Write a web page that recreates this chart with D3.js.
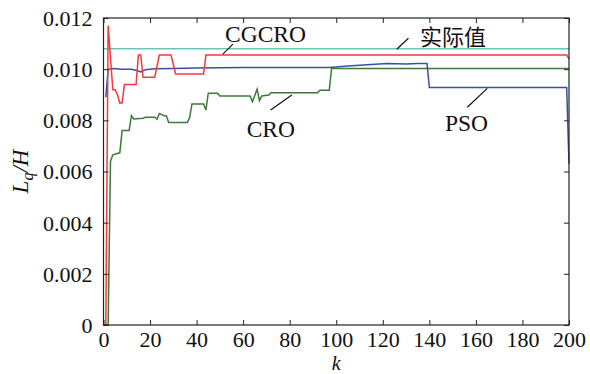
<!DOCTYPE html>
<html>
<head>
<meta charset="utf-8">
<script src="https://cdn.jsdelivr.net/npm/d3@7"></script>
</head>
<body style="margin:0">
<script>
// iteration k and L_q/H values
var actualK = [0, 200];
var actualV = [0.0108, 0.0108];

var cgcroK = [0, 1, 2, 4, 5, 6, 7, 8, 9, 14, 15, 16, 17, 22, 24, 29, 31, 43, 44, 199, 200];
var cgcroV = [0, 0, 0.0117, 0.0092, 0.0092, 0.0090, 0.00868, 0.00868, 0.0094, 0.0094, 0.01055, 0.01055,
              0.00968, 0.00968, 0.01055, 0.01055, 0.00981, 0.00981, 0.01055, 0.01055, 0.0104];

var psoK = [1, 2, 4, 8, 12, 15, 16, 18, 22, 30, 40, 60, 97, 105, 115, 122, 130, 135, 139, 140, 199, 200];
var psoV = [0.0089, 0.0100, 0.01003, 0.01000, 0.01000, 0.00993, 0.00989, 0.00998, 0.01002, 0.01003,
            0.01005, 0.01007, 0.01007, 0.01012, 0.01018, 0.01022, 0.01020, 0.01022, 0.01022, 0.00928,
            0.00928, 0.0063];

var croK = [1, 2, 3, 4, 7, 8, 11, 12, 13, 17, 18, 22, 23, 24, 26, 27, 28, 36, 37, 38, 43, 44, 45, 49,
            50, 63, 64, 66, 67, 68, 71, 72, 92, 93, 97, 98, 200];
var croV = [0, 0, 0.0064, 0.00665, 0.00673, 0.0076, 0.0076, 0.00818, 0.00805, 0.00808, 0.00812, 0.00812,
            0.00804, 0.00827, 0.00818, 0.00818, 0.00792, 0.00792, 0.0081, 0.00864, 0.00864, 0.0084,
            0.00906, 0.00906, 0.00895, 0.00895, 0.00873, 0.00922, 0.00877, 0.00895, 0.00899, 0.00908,
            0.00908, 0.00918, 0.00918, 0.01003, 0.01003];

var xTicks = [0, 20, 40, 60, 80, 100, 120, 140, 160, 180, 200];
var yTicks = [0, 0.002, 0.004, 0.006, 0.008, 0.010, 0.012];

var W = 590, H = 374;
var margin = {top: 18, right: 21, bottom: 49, left: 103.5};
var serif = "Liberation Serif";

var svg = d3.select("body").append("svg")
            .attr("width", W)
            .attr("height", H)
            .attr("font-family", serif);

var x = d3.scaleLinear().domain([0, 200]).range([margin.left, W - margin.right]);
var y = d3.scaleLinear().domain([0, 0.012]).range([H - margin.bottom, margin.top]);

function zip(ks, vs) {
  return ks.map(function (k, i) { return [k, vs[i]]; });
}

var line = d3.line()
  .x(function (d) { return x(d[0]); })
  .y(function (d) { return y(d[1]); });

var series = [
  {name: "actual", pts: zip(actualK, actualV), color: "#6cc6b8"},
  {name: "CRO", pts: zip(croK, croV), color: "#3d7a37"},
  {name: "PSO", pts: zip(psoK, psoV), color: "#3c4f9c"},
  {name: "CGCRO", pts: zip(cgcroK, cgcroV), color: "#ef3b3b"}
];

svg.selectAll("path.series")
   .data(series)
   .enter().append("path")
   .attr("class", "series")
   .attr("fill", "none")
   .attr("stroke", function (d) { return d.color; })
   .attr("stroke-width", 1.5)
   .attr("d", function (d) { return line(d.pts); });

// axes, ticks pointing inward on all four sides
var fmtY = function (d) { return d === 0 ? "0" : d3.format(".3f")(d); };

var gB = svg.append("g").attr("transform", "translate(0," + y(0) + ")")
  .call(d3.axisBottom(x).tickValues(xTicks).tickSizeInner(-5).tickSizeOuter(0).tickPadding(6));
var gL = svg.append("g").attr("transform", "translate(" + x(0) + ",0)")
  .call(d3.axisLeft(y).tickValues(yTicks).tickFormat(fmtY).tickSizeInner(-5).tickSizeOuter(0).tickPadding(11));
var gT = svg.append("g").attr("transform", "translate(0," + y(0.012) + ")")
  .call(d3.axisTop(x).tickValues(xTicks).tickSizeInner(-5).tickSizeOuter(0).tickFormat(""));
var gR = svg.append("g").attr("transform", "translate(" + x(200) + ",0)")
  .call(d3.axisRight(y).tickValues(yTicks).tickSizeInner(-5).tickSizeOuter(0).tickFormat(""));

[gB, gL, gT, gR].forEach(function (g) {
  g.attr("font-family", serif).attr("font-size", 22);
  g.select(".domain").remove();
  g.selectAll("line").attr("stroke", "#222").attr("stroke-width", 1);
  g.selectAll("text")
   .attr("fill", "#111")
   .attr("font-family", serif)
   .attr("font-size", 22);
});
gB.selectAll("text").attr("dy", "0.71em");
gL.selectAll("text").attr("dy", "0.34em");

svg.append("rect")
   .attr("x", x(0)).attr("y", y(0.012))
   .attr("width", x(200) - x(0)).attr("height", y(0) - y(0.012))
   .attr("fill", "none").attr("stroke", "#222").attr("stroke-width", 1.2);

// series labels with leader lines (data coordinates)
var notes = [
  {text: "CGCRO", tk: 52.2, tv: 0.01106, from: [55.6, 0.01098], to: [51.3, 0.01059], cjk: false},
  {text: "CRO", tk: 61.5, tv: 0.00735, from: [71.8, 0.0084], to: [80.9, 0.00899], cjk: false},
  {text: "实际值", tk: 136, tv: 0.01094, from: [131, 0.01121], to: [126, 0.01078], cjk: true},
  {text: "PSO", tk: 146.7, tv: 0.00758, from: [156.3, 0.00851], to: [164.9, 0.00925], cjk: false}
];

svg.selectAll("line.lead")
   .data(notes).enter().append("line")
   .attr("class", "lead")
   .attr("x1", function (d) { return x(d.from[0]); })
   .attr("y1", function (d) { return y(d.from[1]); })
   .attr("x2", function (d) { return x(d.to[0]); })
   .attr("y2", function (d) { return y(d.to[1]); })
   .attr("stroke", "#111").attr("stroke-width", 1.2);

svg.selectAll("text.note")
   .data(notes).enter().append("text")
   .attr("class", "note")
   .attr("x", function (d) { return x(d.tk); })
   .attr("y", function (d) { return y(d.tv); })
   .attr("fill", "#111")
   .attr("font-family", function (d) { return d.cjk ? "Noto Sans CJK SC" : serif; })
   .attr("font-size", function (d) { return d.cjk ? 22 : 23.5; })
   .text(function (d) { return d.text; });

// axis titles
svg.append("text")
   .attr("x", x(100)).attr("y", 370)
   .attr("text-anchor", "middle")
   .attr("font-family", serif)
   .attr("font-size", 20).attr("font-style", "italic")
   .attr("fill", "#111")
   .text("k");

var yl = svg.append("text")
   .attr("transform", "translate(28," + ((y(0) + y(0.012)) / 2) + ") rotate(-90)")
   .attr("text-anchor", "middle")
   .attr("font-family", serif)
   .attr("font-size", 23).attr("font-style", "italic")
   .attr("fill", "#111");
yl.append("tspan").text("L");
yl.append("tspan").attr("dy", 5).attr("font-size", 16).text("q");
yl.append("tspan").attr("dy", -5).text("/H");
</script>
</body>
</html>
